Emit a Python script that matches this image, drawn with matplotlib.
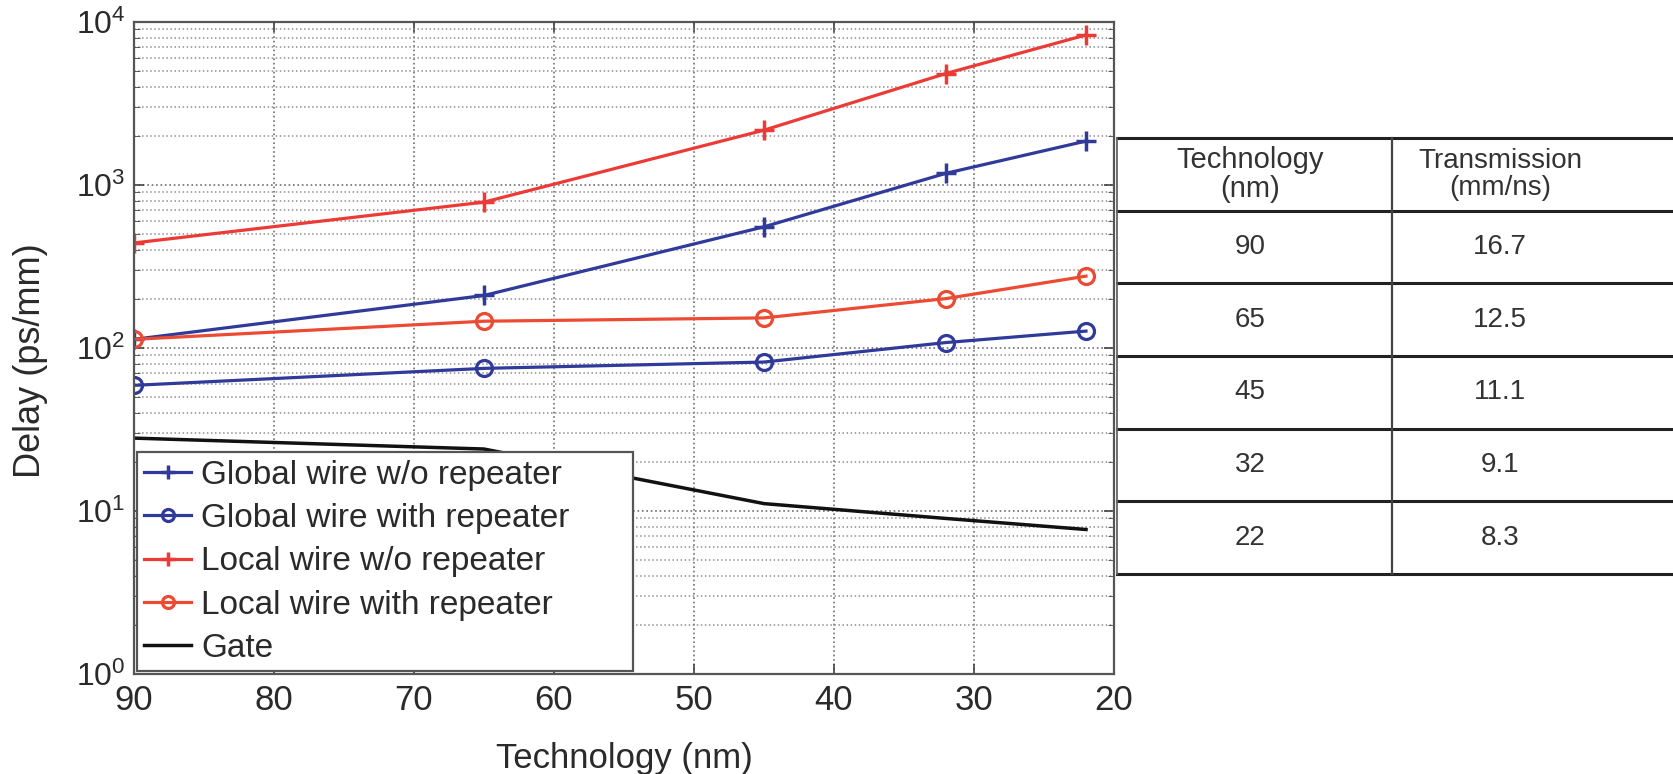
import matplotlib
matplotlib.use("Agg")
import matplotlib.pyplot as plt
from matplotlib.ticker import LogLocator, FixedLocator, NullFormatter
from matplotlib.lines import Line2D

plt.rcParams['font.family'] = ['Liberation Sans', 'DejaVu Sans']
plt.rcParams['mathtext.fontset'] = 'custom'
plt.rcParams['mathtext.rm'] = 'Liberation Sans'
plt.rcParams['mathtext.it'] = 'Liberation Sans'

# ---- data ----
tech_nm = [90, 65, 45, 32, 22]
global_wo_rep = [113, 210, 554, 1180, 1860]
global_with_rep = [59, 75, 82, 108, 127]
local_wo_rep = [441, 785, 2170, 4830, 8330]
local_with_rep = [113, 146, 153, 201, 276]
gate = [28, 24, 11.1, 9.0, 7.7]

x_ticks = [90, 80, 70, 60, 50, 40, 30, 20]
y_ticks = [1, 10, 100, 1000, 10000]
y_tick_labels = ['$10^0$', '$10^1$', '$10^2$', '$10^3$', '$10^4$']

table_header = ['Technology\n(nm)', 'Transmission\n(mm/ns)']
table_tech = ['90', '65', '45', '32', '22']
table_speed = ['16.7', '12.5', '11.1', '9.1', '8.3']

labels = ['Global wire w/o repeater', 'Global wire with repeater',
          'Local wire w/o repeater', 'Local wire with repeater', 'Gate']

BLUE = '#2f3a9a'
RED = '#ec3b36'
ORANGE = '#ec4a32'
TXT = '#2a2a2a'

W, H = 1673, 774
fig = plt.figure(figsize=(W / 100, H / 100), dpi=100)
AX_L, AX_R, AX_T, AX_B = 134, 1114, 22, 674
ax = fig.add_axes([AX_L / W, 1 - AX_B / H, (AX_R - AX_L) / W, (AX_B - AX_T) / H])

ax.plot(tech_nm, global_wo_rep, color=BLUE, lw=2.3, marker='+', ms=14, mew=2.5, label=labels[0])
ax.plot(tech_nm, global_with_rep, color=BLUE, lw=2.3, marker='o', ms=11.5, mew=2.3, mfc='none', label=labels[1])
ax.plot(tech_nm, local_wo_rep, color=RED, lw=2.3, marker='+', ms=14, mew=2.5, label=labels[2])
ax.plot(tech_nm, local_with_rep, color=ORANGE, lw=2.3, marker='o', ms=11.5, mew=2.3, mfc='none', label=labels[3])
ax.plot(tech_nm, gate, color='#111111', lw=2.5, label=labels[4])

ax.set_yscale('log')
ax.set_xlim(90, 20)
ax.set_ylim(1, 10000)
ax.xaxis.set_major_locator(FixedLocator(x_ticks))
ax.set_xticklabels([str(v) for v in x_ticks])
ax.yaxis.set_major_locator(FixedLocator(y_ticks))
ax.set_yticklabels(y_tick_labels)
ax.yaxis.set_minor_locator(LogLocator(base=10, subs=range(2, 10)))
ax.yaxis.set_minor_formatter(NullFormatter())

ax.tick_params(axis='both', which='both', direction='in', top=True, right=True, colors='#444444')
ax.tick_params(axis='x', which='major', labelsize=25, labelcolor=TXT, pad=7.5, length=7, width=1.2)
ax.tick_params(axis='y', which='major', labelsize=23, labelcolor=TXT, pad=6, length=7, width=1.2)
ax.tick_params(axis='y', which='minor', length=4)
for s in ax.spines.values():
    s.set_color('#555555')
    s.set_linewidth(1.6)

ax.grid(True, which='major', linestyle=':', color='#707070', lw=1.2)
ax.grid(True, which='minor', axis='y', linestyle=':', color='#909090', lw=1.1)

ax.set_xlabel('Technology (nm)', fontsize=25, color=TXT, labelpad=18)
ax.set_ylabel('Delay (ps/mm)', fontsize=26, color=TXT)
ax.yaxis.set_label_coords(-0.088, 0.48)

leg = ax.legend(loc='lower left', bbox_to_anchor=(0.003, 0.004, 0.506, 0.34), mode='expand',
                fontsize=24, frameon=True, fancybox=False, borderaxespad=0,
                handlelength=1.4, labelspacing=0.37, borderpad=0.22, handletextpad=0.3,
                markerscale=0.75)
leg.get_frame().set_edgecolor('#555555')
leg.get_frame().set_linewidth(1.6)
leg.get_frame().set_alpha(1)
for t in leg.get_texts():
    t.set_color(TXT)

# ---- table on the right (figure coordinates in pixels) ----
tx0, tx1, tdiv = 1117, 1673, 1392
ty0, ty1 = 138, 574
rows = 6
rh = (ty1 - ty0) / rows


def fx(px):
    return px / W


def fy(py):
    return 1 - py / H


for i in range(rows + 1):
    y = ty0 + i * rh
    fig.add_artist(Line2D([fx(tx0), fx(tx1)], [fy(y), fy(y)], color='#222222', lw=2.2))
fig.add_artist(Line2D([fx(tx0), fx(tx0)], [fy(ty0), fy(ty1)], color='#666666', lw=1.3))
fig.add_artist(Line2D([fx(tdiv), fx(tdiv)], [fy(ty0), fy(ty1)], color='#444444', lw=1.6))

c1, c2 = 1250, 1500
fig.text(fx(c1), fy(ty0 + rh / 2), table_header[0], ha='center', va='center',
         fontsize=21, color='#333333', linespacing=1.05)
fig.text(fx(c2), fy(ty0 + rh / 2), table_header[1], ha='center', va='center',
         fontsize=20, color='#333333', linespacing=1.05)
for i, (a, b) in enumerate(zip(table_tech, table_speed)):
    yc = ty0 + (i + 1.5) * rh
    fig.text(fx(c1), fy(yc), a, ha='center', va='center', fontsize=20, color='#333333')
    fig.text(fx(c2), fy(yc), b, ha='center', va='center', fontsize=20, color='#333333')

fig.savefig('out.png', dpi=100)
